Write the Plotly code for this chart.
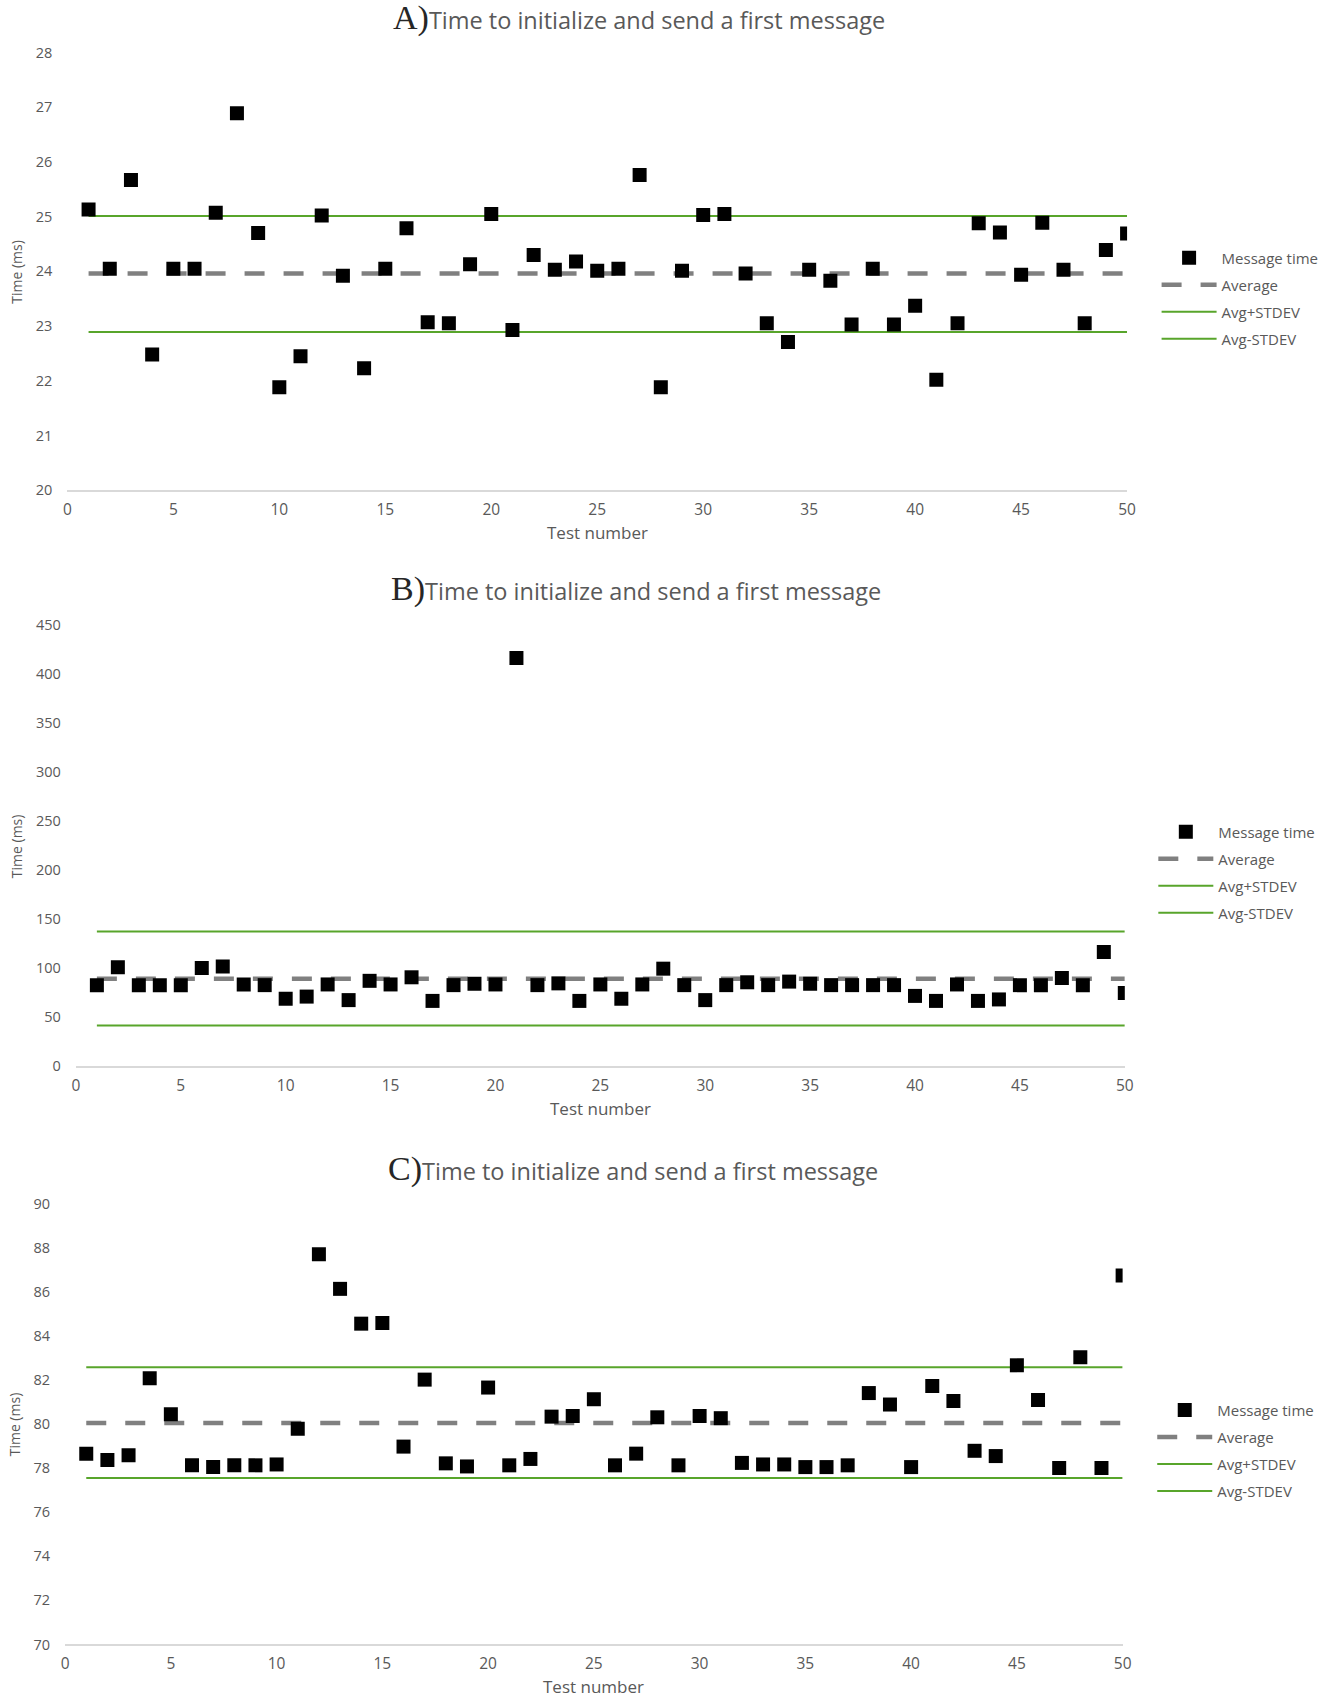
import plotly.graph_objects as go

# ---------------- data ----------------
test_numbers = list(range(1, 51))

a_times = [25.13, 24.05, 25.67, 22.48, 24.05, 24.05, 25.07, 26.89, 24.70, 21.88,
           22.45, 25.02, 23.92, 22.23, 24.05, 24.79, 23.07, 23.05, 24.13, 25.05,
           22.93, 24.30, 24.03, 24.18, 24.01, 24.05, 25.76, 21.88, 24.01, 25.03,
           25.05, 23.96, 23.05, 22.71, 24.03, 23.83, 23.03, 24.05, 23.03, 23.37,
           22.02, 23.05, 24.88, 24.71, 23.94, 24.89, 24.03, 23.05, 24.39, 24.69]
a_avg, a_plus, a_minus = 23.96, 25.01, 22.89

b_times = [82.8, 101.0, 82.8, 82.8, 82.8, 100.3, 101.7, 83.5, 82.8, 68.9,
           71.1, 83.5, 67.5, 87.2, 83.5, 90.8, 66.7, 82.8, 84.2, 83.5,
           416.8, 82.8, 84.6, 66.7, 83.5, 68.9, 83.5, 99.6, 82.8, 67.5,
           82.8, 85.7, 82.8, 86.4, 84.2, 82.8, 82.8, 82.8, 82.8, 71.8,
           66.7, 83.5, 66.7, 68.2, 82.8, 82.8, 90.1, 82.8, 116.7, 74.8]
b_avg, b_plus, b_minus = 89.4, 137.5, 41.6

c_times = [78.66, 78.37, 78.59, 82.08, 80.45, 78.13, 78.05, 78.13, 78.13, 78.17,
           79.79, 87.71, 86.14, 84.56, 84.59, 78.98, 82.02, 78.22, 78.08, 81.66,
           78.13, 78.42, 80.34, 80.37, 81.13, 78.13, 78.66, 80.31, 78.13, 80.37,
           80.27, 78.24, 78.17, 78.17, 78.05, 78.05, 78.13, 81.41, 80.89, 78.05,
           81.73, 81.05, 78.79, 78.55, 82.67, 81.10, 78.01, 83.04, 78.01, 86.75]
c_avg, c_plus, c_minus = 80.05, 82.58, 77.56

panel_letters = ["A)", "B)", "C)"]
title_text = "Time to initialize and send a first message"
y_ranges = [[20, 28], [0, 450], [70, 90]]
y_dticks = [1, 50, 2]

# ---------------- styling / layout ----------------
W, H = 1350, 1712
SANS = "Open Sans"
SERIF = "Liberation Serif"
TXT = "#595959"
GREEN = "#58a52b"
GRAY = "#808080"

# pixel boxes (left, right, top, bottom) of each plot area
boxes = [(64, 1134, 43, 485.6), (72.6, 1131.7, 622.3, 1068.1), (61.7, 1129.5, 1207.2, 1652.8)]
title_y = [7.8, 585.3, 1172]
title_x = [641.6, 638.3, 635.6]
ytitle_x = [12.5, 12.5, 10.3]
legend_x = [1163.8, 1160.5, 1159.4]
legend_top = [234.2, 814.5, 1399.2]

fig = go.Figure()

panels = [
    (a_times, a_avg, a_plus, a_minus),
    (b_times, b_avg, b_plus, b_minus),
    (c_times, c_avg, c_plus, c_minus),
]


def px(x):
    return x / W


def py(y):
    return 1 - y / H


for i, (times, avg, plus, minus) in enumerate(panels):
    n = "" if i == 0 else str(i + 1)
    xa, ya = "x" + n, "y" + n
    lg = "legend" + n
    fig.add_trace(go.Scatter(x=test_numbers, y=[avg] * len(test_numbers), mode="lines",
                             name="Average", xaxis=xa, yaxis=ya, legend=lg,
                             legendgroup=f"avg{i}", legendrank=2,
                             line=dict(color=GRAY, width=4.5, dash="20px,19px")))
    fig.add_trace(go.Scatter(x=test_numbers, y=[plus] * len(test_numbers), mode="lines",
                             name="Avg+STDEV", xaxis=xa, yaxis=ya, legend=lg,
                             legendgroup=f"plus{i}", legendrank=3,
                             line=dict(color=GREEN, width=2)))
    fig.add_trace(go.Scatter(x=test_numbers, y=[minus] * len(test_numbers), mode="lines",
                             name="Avg-STDEV", xaxis=xa, yaxis=ya, legend=lg,
                             legendgroup=f"minus{i}", legendrank=4,
                             line=dict(color=GREEN, width=2)))
    fig.add_trace(go.Scatter(x=test_numbers, y=times, mode="markers",
                             name="Message time", xaxis=xa, yaxis=ya, legend=lg,
                             legendgroup=f"msg{i}", legendrank=1,
                             marker=dict(symbol="square", size=14, color="black",
                                         line=dict(width=0))))

    l, r, t, b = boxes[i]
    fig.layout["xaxis" + n] = dict(
        domain=[px(l), px(r)], range=[0, 50], dtick=5, tick0=0,
        showgrid=False, zeroline=False, showline=True, linecolor="#d9d9d9", linewidth=1.5,
        ticks="", ticklabelstandoff=4,
        tickfont=dict(family=SANS, size=15.5, color=TXT), anchor=ya, fixedrange=True)
    fig.layout["yaxis" + n] = dict(
        domain=[py(b), py(t)], range=y_ranges[i], dtick=y_dticks[i],
        showgrid=False, zeroline=False, showline=False, ticks="",
        ticklabelstandoff=14,
        tickfont=dict(family=SANS, size=14.5, color=TXT), anchor=xa, fixedrange=True)

    fig.layout[lg] = dict(
        x=px(legend_x[i]), y=py(legend_top[i]), xanchor="left", yanchor="top",
        font=dict(family=SANS, size=15, color=TXT), bgcolor="rgba(0,0,0,0)",
        tracegroupgap=4.5, itemwidth=55, traceorder="grouped")

    # panel title
    fig.add_annotation(
        xref="paper", yref="paper", x=px(title_x[i]), y=py(title_y[i]),
        xanchor="center", yanchor="middle", showarrow=False,
        text=(f'<span style="font-family:{SERIF};font-size:34px;color:#262626">{panel_letters[i]}</span>'
              f'{title_text}'),
        font=dict(family=SANS, size=23.5, color=TXT))
    # y axis title
    fig.add_annotation(
        xref="paper", yref="paper", x=px(ytitle_x[i]), y=py((t + b) / 2),
        xanchor="center", yanchor="middle", showarrow=False, textangle=-90,
        text="Time (ms)", font=dict(family=SANS, size=14, color=TXT))
    # x axis title
    fig.add_annotation(
        xref="paper", yref="paper", x=px((l + r) / 2), y=py(b + 42.7),
        xanchor="center", yanchor="middle", showarrow=False,
        text="Test number", font=dict(family=SANS, size=17, color=TXT))

fig.update_layout(width=W, height=H, margin=dict(l=0, r=0, t=0, b=0),
                  paper_bgcolor="white", plot_bgcolor="white", showlegend=True)

fig.write_html(
    "out.html",
    config={"displayModeBar": False},
    post_script=("document.documentElement.style.margin='0px';"
                 "document.body.style.margin='0px';"
                 "document.documentElement.style.overflow='hidden';"
                 "document.body.style.overflow='hidden';"),
)
